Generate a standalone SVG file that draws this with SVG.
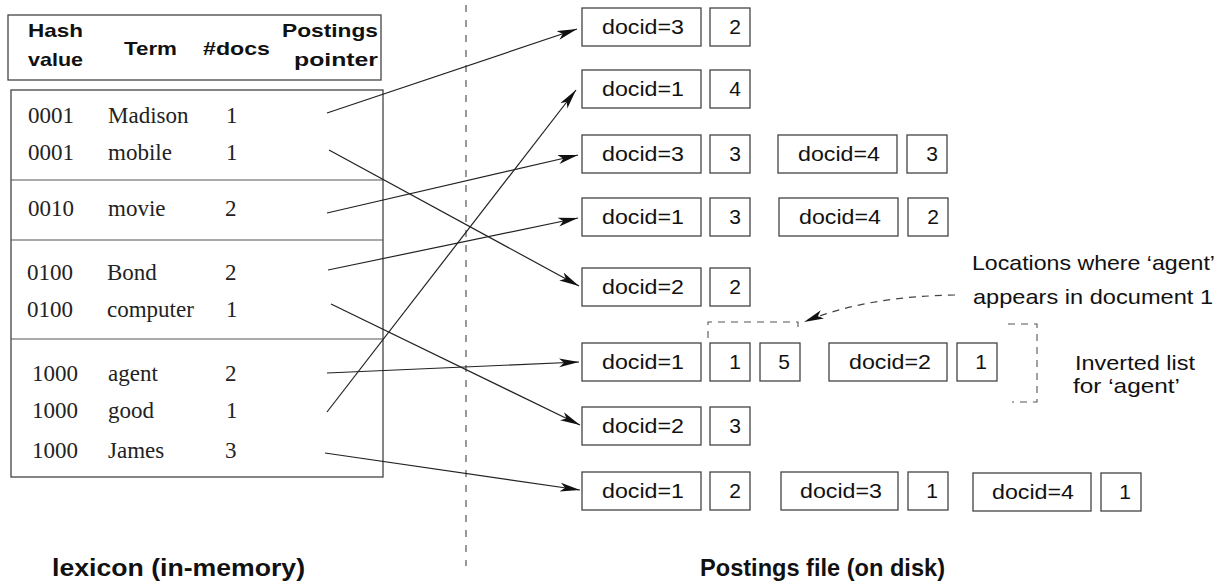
<svg xmlns="http://www.w3.org/2000/svg" width="1224" height="586" viewBox="0 0 1224 586">
<style>
.hd{font-family:"Liberation Sans",Arial,sans-serif;font-weight:bold;font-size:19px;fill:#111}
.lx{font-family:"Liberation Serif","Times New Roman",serif;font-size:23px;fill:#222}
.pt{font-family:"Liberation Sans",Arial,sans-serif;font-size:21px;fill:#111}
.an{font-family:"Liberation Sans",Arial,sans-serif;font-size:21px;fill:#111}
.lb{font-family:"Liberation Sans",Arial,sans-serif;font-weight:bold;font-size:23px;fill:#111}
.frame{fill:none;stroke:#444;stroke-width:1.3}
.box{fill:#fff;stroke:#444;stroke-width:1.3}
.div{stroke:#555;stroke-width:1.2}
.con{fill:none;stroke:#222;stroke-width:1.2;marker-end:url(#ah)}
.dsh{fill:none;stroke:#444;stroke-width:1.2;stroke-dasharray:7 6}
</style>
<defs>
<marker id="ah" markerUnits="userSpaceOnUse" markerWidth="22" markerHeight="10" refX="20" refY="4.5" orient="auto">
<path d="M0,0 L20,4.5 L0,9 L5,4.5 z" fill="#111"/>
</marker>
</defs>
<rect width="1224" height="586" fill="#fff"/>

<g id="lexicon">
<rect class="frame" x="8" y="15" width="373" height="65"/>
<text class="hd" x="28" y="37" textLength="55" lengthAdjust="spacingAndGlyphs">Hash</text>
<text class="hd" x="28" y="66" textLength="55" lengthAdjust="spacingAndGlyphs">value</text>
<text class="hd" x="124" y="55" textLength="53" lengthAdjust="spacingAndGlyphs">Term</text>
<text class="hd" x="203" y="55" textLength="67" lengthAdjust="spacingAndGlyphs">#docs</text>
<text class="hd" x="282" y="37" textLength="96" lengthAdjust="spacingAndGlyphs">Postings</text>
<text class="hd" x="294" y="66" textLength="84" lengthAdjust="spacingAndGlyphs">pointer</text>
<rect class="frame" x="11" y="90" width="372" height="387"/>
<line class="div" x1="11" y1="180" x2="383" y2="180"/>
<line class="div" x1="11" y1="240" x2="383" y2="240"/>
<line class="div" x1="11" y1="339" x2="383" y2="339"/>
<g id="row-madison"><text class="lx" x="28" y="123">0001</text><text class="lx" x="108" y="123">Madison</text><text class="lx" x="226" y="123">1</text></g>
<g id="row-mobile"><text class="lx" x="28" y="160">0001</text><text class="lx" x="108" y="160">mobile</text><text class="lx" x="226" y="160">1</text></g>
<g id="row-movie"><text class="lx" x="28" y="216">0010</text><text class="lx" x="108" y="216">movie</text><text class="lx" x="225" y="216">2</text></g>
<g id="row-bond"><text class="lx" x="27" y="280">0100</text><text class="lx" x="107" y="280">Bond</text><text class="lx" x="225" y="280">2</text></g>
<g id="row-computer"><text class="lx" x="27" y="317">0100</text><text class="lx" x="107" y="317">computer</text><text class="lx" x="226" y="317">1</text></g>
<g id="row-agent"><text class="lx" x="32" y="381">1000</text><text class="lx" x="108" y="381">agent</text><text class="lx" x="225" y="381">2</text></g>
<g id="row-good"><text class="lx" x="32" y="418">1000</text><text class="lx" x="108" y="418">good</text><text class="lx" x="226" y="418">1</text></g>
<g id="row-james"><text class="lx" x="32" y="458">1000</text><text class="lx" x="108" y="458">James</text><text class="lx" x="225" y="458">3</text></g>
</g>

<line id="divider" x1="466" y1="5" x2="466" y2="566" stroke="#555" stroke-width="1.2" stroke-dasharray="7 8"/>

<g id="list-madison">
<rect class="box" x="582" y="8" width="119" height="38"/><text class="pt" x="643" y="34" text-anchor="middle" textLength="82" lengthAdjust="spacingAndGlyphs">docid=3</text>
<rect class="box" x="710" y="8" width="40" height="38"/><text class="pt" x="735" y="34" text-anchor="middle">2</text>
</g>
<g id="list-good">
<rect class="box" x="582" y="70" width="119" height="38"/><text class="pt" x="643" y="96" text-anchor="middle" textLength="82" lengthAdjust="spacingAndGlyphs">docid=1</text>
<rect class="box" x="710" y="70" width="40" height="38"/><text class="pt" x="735" y="96" text-anchor="middle">4</text>
</g>
<g id="list-movie">
<rect class="box" x="582" y="135" width="119" height="38"/><text class="pt" x="643" y="161" text-anchor="middle" textLength="82" lengthAdjust="spacingAndGlyphs">docid=3</text>
<rect class="box" x="710" y="135" width="40" height="38"/><text class="pt" x="735" y="161" text-anchor="middle">3</text>
<rect class="box" x="778" y="135" width="119" height="38"/><text class="pt" x="839" y="161" text-anchor="middle" textLength="82" lengthAdjust="spacingAndGlyphs">docid=4</text>
<rect class="box" x="907" y="135" width="40" height="38"/><text class="pt" x="932" y="161" text-anchor="middle">3</text>
</g>
<g id="list-bond">
<rect class="box" x="582" y="198" width="119" height="38"/><text class="pt" x="643" y="224" text-anchor="middle" textLength="82" lengthAdjust="spacingAndGlyphs">docid=1</text>
<rect class="box" x="710" y="198" width="40" height="38"/><text class="pt" x="735" y="224" text-anchor="middle">3</text>
<rect class="box" x="779" y="198" width="119" height="38"/><text class="pt" x="840" y="224" text-anchor="middle" textLength="82" lengthAdjust="spacingAndGlyphs">docid=4</text>
<rect class="box" x="908" y="198" width="40" height="38"/><text class="pt" x="933" y="224" text-anchor="middle">2</text>
</g>
<g id="list-mobile">
<rect class="box" x="582" y="268" width="119" height="38"/><text class="pt" x="643" y="294" text-anchor="middle" textLength="82" lengthAdjust="spacingAndGlyphs">docid=2</text>
<rect class="box" x="710" y="268" width="40" height="38"/><text class="pt" x="735" y="294" text-anchor="middle">2</text>
</g>
<g id="list-agent">
<rect class="box" x="582" y="343" width="119" height="38"/><text class="pt" x="643" y="369" text-anchor="middle" textLength="82" lengthAdjust="spacingAndGlyphs">docid=1</text>
<rect class="box" x="710" y="343" width="40" height="38"/><text class="pt" x="735" y="369" text-anchor="middle">1</text>
<rect class="box" x="760" y="343" width="40" height="38"/><text class="pt" x="784" y="369" text-anchor="middle">5</text>
<rect class="box" x="829" y="343" width="118" height="38"/><text class="pt" x="890" y="369" text-anchor="middle" textLength="82" lengthAdjust="spacingAndGlyphs">docid=2</text>
<rect class="box" x="957" y="343" width="40" height="38"/><text class="pt" x="981" y="369" text-anchor="middle">1</text>
</g>
<g id="list-computer">
<rect class="box" x="582" y="407" width="119" height="38"/><text class="pt" x="643" y="433" text-anchor="middle" textLength="82" lengthAdjust="spacingAndGlyphs">docid=2</text>
<rect class="box" x="710" y="407" width="40" height="38"/><text class="pt" x="735" y="433" text-anchor="middle">3</text>
</g>
<g id="list-james">
<rect class="box" x="582" y="472" width="119" height="38"/><text class="pt" x="643" y="498" text-anchor="middle" textLength="82" lengthAdjust="spacingAndGlyphs">docid=1</text>
<rect class="box" x="710" y="472" width="40" height="38"/><text class="pt" x="735" y="498" text-anchor="middle">2</text>
<rect class="box" x="781" y="472" width="117" height="38"/><text class="pt" x="841" y="498" text-anchor="middle" textLength="82" lengthAdjust="spacingAndGlyphs">docid=3</text>
<rect class="box" x="908" y="472" width="40" height="38"/><text class="pt" x="932" y="498" text-anchor="middle">1</text>
<rect class="box" x="973" y="473" width="118" height="38"/><text class="pt" x="1033" y="499" text-anchor="middle" textLength="82" lengthAdjust="spacingAndGlyphs">docid=4</text>
<rect class="box" x="1101" y="473" width="40" height="38"/><text class="pt" x="1125" y="499" text-anchor="middle">1</text>
</g>

<g id="connectors">
<line class="con" x1="327" y1="113" x2="577" y2="29"/>
<line class="con" x1="329" y1="150" x2="579" y2="286"/>
<line class="con" x1="327" y1="213" x2="578" y2="155"/>
<line class="con" x1="328" y1="270" x2="578" y2="218"/>
<line class="con" x1="331" y1="304" x2="580" y2="425"/>
<line class="con" x1="327" y1="373" x2="579" y2="362"/>
<line class="con" x1="327" y1="412" x2="576" y2="90"/>
<line class="con" x1="325" y1="453" x2="580" y2="490"/>
<path class="dsh" d="M955,295 C900,296 850,303 804,322" marker-end="url(#ah)"/>
</g>

<g id="annotation-locations">
<path d="M708,338 L708,322 L798,322 L798,332" fill="none" stroke="#555" stroke-width="1.1" stroke-dasharray="7 6"/>
<text class="an" x="972" y="270" textLength="243" lengthAdjust="spacingAndGlyphs">Locations where ‘agent’</text>
<text class="an" x="973" y="304" textLength="240" lengthAdjust="spacingAndGlyphs">appears in document 1</text>
</g>
<g id="annotation-inverted">
<path d="M1008,324 L1037,324 L1037,402 L1012,402" fill="none" stroke="#555" stroke-width="1.1" stroke-dasharray="7 6"/>
<text class="an" x="1075" y="370" textLength="120" lengthAdjust="spacingAndGlyphs">Inverted list</text>
<text class="an" x="1073" y="393" textLength="107" lengthAdjust="spacingAndGlyphs">for ‘agent’</text>
</g>

<text id="label-lexicon" class="lb" x="52" y="576" textLength="253" lengthAdjust="spacingAndGlyphs">lexicon (in-memory)</text>
<text id="label-postings" class="lb" x="700" y="576" textLength="245" lengthAdjust="spacingAndGlyphs">Postings file (on disk)</text>
</svg>
